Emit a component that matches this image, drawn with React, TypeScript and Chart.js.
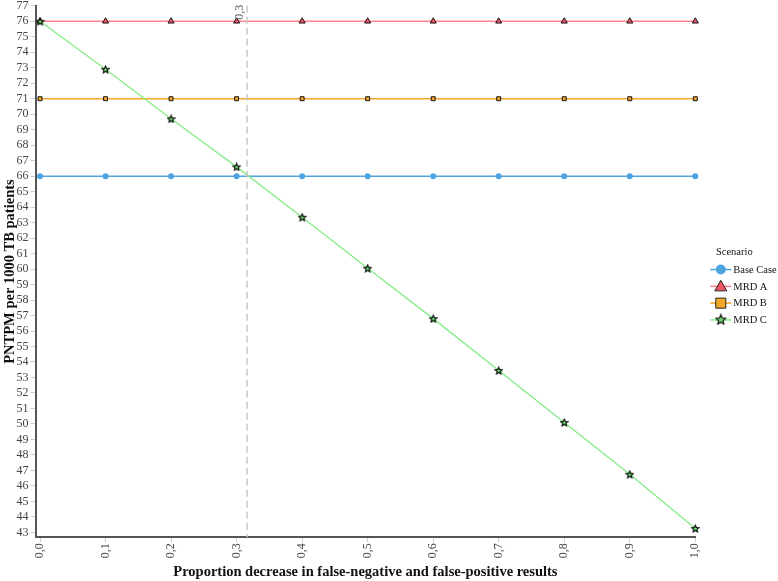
import React, { useEffect, useRef } from 'react';
import { Chart, registerables } from 'chart.js';

Chart.register(...registerables);

const xValues = [0, 0.1, 0.2, 0.3, 0.4, 0.5, 0.6, 0.7, 0.8, 0.9, 1.0];
const baseCase = [66, 66, 66, 66, 66, 66, 66, 66, 66, 66, 66];
const mrdA = [76, 76, 76, 76, 76, 76, 76, 76, 76, 76, 76];
const mrdB = [71, 71, 71, 71, 71, 71, 71, 71, 71, 71, 71];
const mrdC = [76, 72.9, 69.7, 66.6, 63.35, 60.05, 56.8, 53.45, 50.1, 46.75, 43.25];
const seriesNames = ['Base Case', 'MRD A', 'MRD B', 'MRD C'];
const xTicks = [0, 0.1, 0.2, 0.3, 0.4, 0.5, 0.6, 0.7, 0.8, 0.9, 1.0];
const yTicks = [43, 44, 45, 46, 47, 48, 49, 50, 51, 52, 53, 54, 55, 56, 57, 58, 59, 60, 61, 62, 63, 64, 65, 66, 67, 68, 69, 70, 71, 72, 73, 74, 75, 76, 77];
const thresholdX = 0.316;
const thresholdLabel = '0,3';
const legendTitle = 'Scenario';
const xTitle = 'Proportion decrease in false-negative and false-positive results';
const yTitle = 'PNTPM per 1000 TB patients';

const SERIF = "'Liberation Serif', 'Times New Roman', serif";
const BLUE = '#4ea4e0';
const RED_LINE = '#ff8391';
const RED_FILL = '#ef5565';
const ORANGE = '#f5a828';
const GREEN_LINE = '#86ec86';
const GREEN_FILL = '#72d872';

function makeStar(size: number, fill: string): HTMLCanvasElement {
  const c = document.createElement('canvas');
  c.width = size;
  c.height = size;
  const ctx = c.getContext('2d')!;
  const cx = size / 2;
  const cy = size / 2 + 0.4;
  const outer = size / 2 - 0.8;
  const inner = outer * 0.45;
  ctx.beginPath();
  for (let i = 0; i < 10; i++) {
    const r = i % 2 === 0 ? outer : inner;
    const a = -Math.PI / 2 + (i * Math.PI) / 5;
    const px = cx + r * Math.cos(a);
    const py = cy + r * Math.sin(a);
    if (i === 0) ctx.moveTo(px, py);
    else ctx.lineTo(px, py);
  }
  ctx.closePath();
  ctx.fillStyle = fill;
  ctx.fill();
  ctx.lineWidth = 1.1;
  ctx.strokeStyle = '#000';
  ctx.stroke();
  return c;
}

export default function App() {
  const ref = useRef<HTMLCanvasElement | null>(null);

  useEffect(() => {
    const canvas = ref.current;
    if (!canvas) return;
    const star = makeStar(9, GREEN_FILL);
    const legendStar = makeStar(12, GREEN_FILL);

    const pts = (ys: number[]) => xValues.map((x, i) => ({ x, y: ys[i] }));

    const overlay = {
      id: 'overlay',
      afterDatasetsDraw(chart: any) {
        const { ctx, chartArea, scales } = chart;
        const xs = scales.x.getPixelForValue(thresholdX);
        ctx.save();
        ctx.strokeStyle = '#c9c9c9';
        ctx.lineWidth = 1.5;
        ctx.setLineDash([7, 4]);
        ctx.beginPath();
        ctx.moveTo(xs, chartArea.top);
        ctx.lineTo(xs, chartArea.bottom);
        ctx.stroke();
        ctx.setLineDash([]);
        ctx.translate(xs - 1, chartArea.top - 1);
        ctx.rotate(-Math.PI / 2);
        ctx.font = `12px ${SERIF}`;
        ctx.fillStyle = '#555';
        ctx.textAlign = 'right';
        ctx.textBaseline = 'bottom';
        ctx.fillText(thresholdLabel, 0, 0);
        ctx.restore();
      },
      afterDraw(chart: any) {
        const { ctx, chartArea } = chart;
        const midY = (chartArea.top + chartArea.bottom) / 2;
        const lineX0 = chartArea.right + 15;
        const lineX1 = chartArea.right + 36;
        const mx = (lineX0 + lineX1) / 2;
        const textX = chartArea.right + 38;
        ctx.save();
        ctx.font = `10.5px ${SERIF}`;
        ctx.fillStyle = '#111';
        ctx.textAlign = 'center';
        ctx.textBaseline = 'middle';
        ctx.fillText(legendTitle, chartArea.right + 39, midY - 19);
        const colors = [BLUE, RED_LINE, ORANGE, GREEN_LINE];
        seriesNames.forEach((name, i) => {
          const y = midY - 2 + i * 16.8;
          ctx.beginPath();
          ctx.strokeStyle = colors[i];
          ctx.lineWidth = 1.5;
          ctx.moveTo(lineX0, y);
          ctx.lineTo(lineX1, y);
          ctx.stroke();
          ctx.lineWidth = 1;
          ctx.strokeStyle = '#222';
          if (i === 0) {
            ctx.fillStyle = BLUE;
            ctx.beginPath();
            ctx.arc(mx, y, 5, 0, Math.PI * 2);
            ctx.fill();
          } else if (i === 1) {
            ctx.fillStyle = RED_FILL;
            ctx.beginPath();
            ctx.moveTo(mx, y - 6);
            ctx.lineTo(mx + 6, y + 4.5);
            ctx.lineTo(mx - 6, y + 4.5);
            ctx.closePath();
            ctx.fill();
            ctx.stroke();
          } else if (i === 2) {
            ctx.fillStyle = ORANGE;
            ctx.beginPath();
            ctx.rect(mx - 5, y - 5, 10, 10);
            ctx.fill();
            ctx.stroke();
          } else {
            ctx.drawImage(legendStar, mx - 6, y - 6.5);
          }
          ctx.fillStyle = '#111';
          ctx.textAlign = 'left';
          ctx.fillText(name, textX, y + 0.5);
        });
        ctx.restore();
      },
    };

    const tickFont = { family: SERIF, size: 12 };
    const titleFont = { family: SERIF, size: 14.5, weight: 'bold' as const };

    const chart = new Chart(canvas, {
      type: 'line',
      data: {
        datasets: [
          {
            label: seriesNames[0],
            data: pts(baseCase),
            borderColor: BLUE,
            backgroundColor: BLUE,
            borderWidth: 1.5,
            pointStyle: 'circle',
            pointRadius: 3,
            pointBorderWidth: 0,
            clip: 10,
            order: 3,
          },
          {
            label: seriesNames[1],
            data: pts(mrdA),
            borderColor: RED_LINE,
            backgroundColor: RED_FILL,
            pointBorderColor: '#111',
            borderWidth: 1.5,
            pointStyle: 'triangle',
            pointRadius: 3.5,
            pointBorderWidth: 1,
            clip: 10,
            order: 2,
          },
          {
            label: seriesNames[2],
            data: pts(mrdB),
            borderColor: ORANGE,
            backgroundColor: ORANGE,
            pointBorderColor: '#111',
            borderWidth: 1.5,
            pointStyle: 'rect',
            pointRadius: 2.8,
            pointBorderWidth: 1,
            clip: 10,
            order: 1,
          },
          {
            label: seriesNames[3],
            data: pts(mrdC),
            borderColor: GREEN_LINE,
            backgroundColor: GREEN_FILL,
            borderWidth: 1.3,
            pointStyle: star as any,
            pointRadius: 4.5,
            clip: 10,
            order: 0,
          },
        ],
      },
      options: {
        responsive: false,
        animation: false,
        devicePixelRatio: 1,
        layout: { padding: { top: 5, right: 82.7, left: 0, bottom: 0 } },
        plugins: {
          legend: { display: false },
          tooltip: { enabled: false },
        },
        scales: {
          x: {
            type: 'linear',
            min: -0.0069,
            max: 1.0,
            afterBuildTicks: (s: any) => {
              s.ticks = xTicks.map((v) => ({ value: v }));
            },
            afterFit: (s: any) => {
              s.height = 43.7;
              s.paddingLeft = 0;
              s.paddingRight = 0;
            },
            ticks: {
              autoSkip: false,
              minRotation: 90,
              maxRotation: 90,
              font: tickFont,
              color: '#444',
              padding: 1,
              callback: (v: any) => Number(v).toFixed(1).replace('.', ','),
            },
            grid: { drawOnChartArea: false, drawTicks: true, tickLength: 5, color: '#cfcfcf' },
            border: { color: '#555', width: 2 },
            title: { display: true, text: xTitle, font: titleFont, color: '#111', padding: { top: 2, bottom: 0 } },
          },
          y: {
            type: 'linear',
            min: 42.68,
            max: 77,
            afterBuildTicks: (s: any) => {
              s.ticks = yTicks.map((v) => ({ value: v }));
            },
            afterFit: (s: any) => {
              s.width = 35.5;
              s.paddingTop = 0;
              s.paddingBottom = 0;
            },
            ticks: {
              autoSkip: false,
              font: tickFont,
              color: '#444',
              padding: 2,
            },
            grid: { drawOnChartArea: false, drawTicks: true, tickLength: 5, color: '#cfcfcf' },
            border: { color: '#555', width: 2 },
            title: { display: true, text: yTitle, font: titleFont, color: '#111', padding: { top: 2, bottom: 0 } },
          },
        },
      },
      plugins: [overlay],
    } as any);

    return () => chart.destroy();
  }, []);

  return (
    <div style={{ position: 'absolute', left: 0, top: 0, width: 778, height: 581, background: '#fff' }}>
      <canvas ref={ref} width={778} height={581} style={{ display: 'block', width: 778, height: 581 }} />
    </div>
  );
}
